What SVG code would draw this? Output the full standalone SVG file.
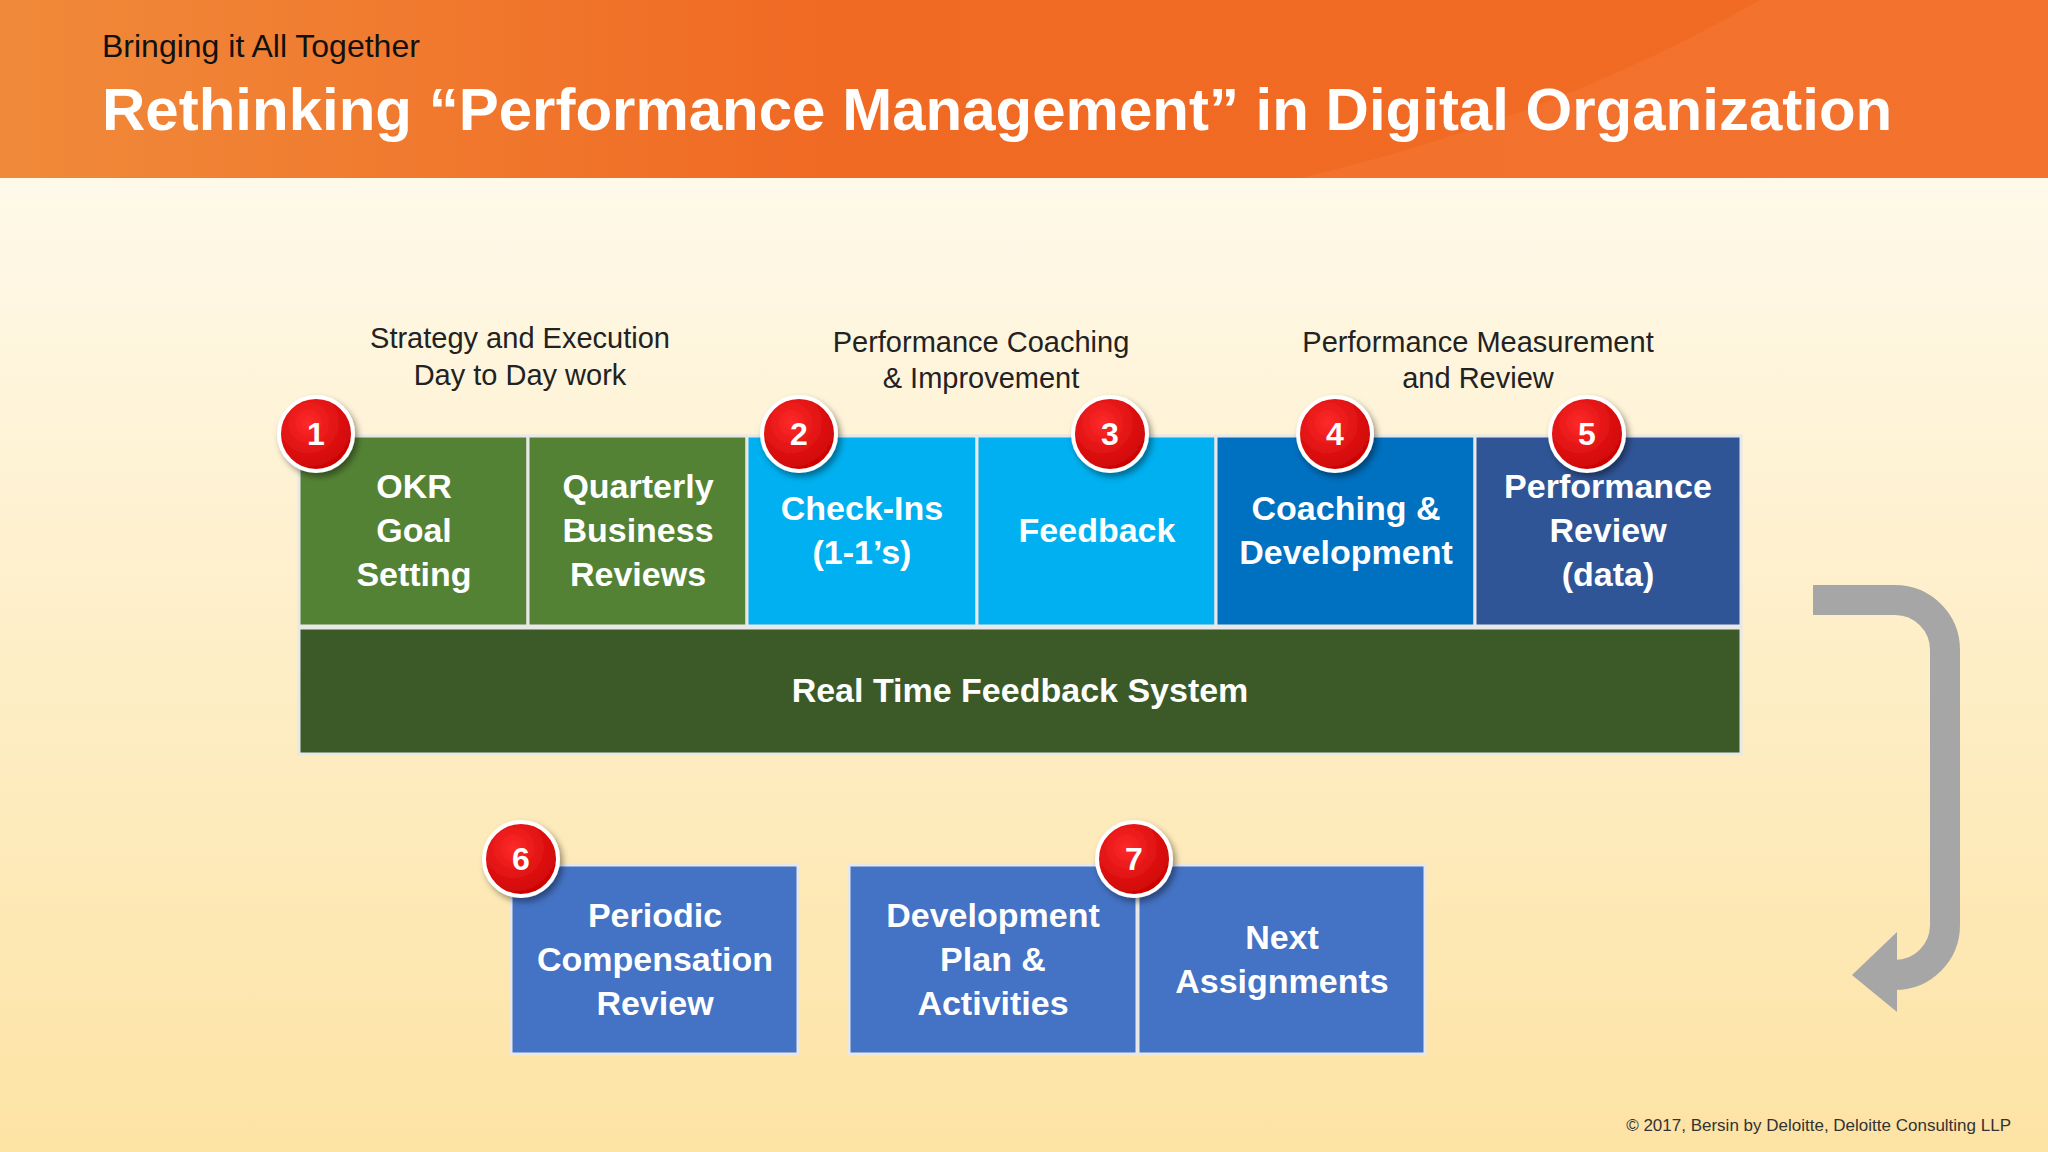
<svg xmlns="http://www.w3.org/2000/svg" width="2048" height="1152" viewBox="0 0 2048 1152">
<defs>
<linearGradient id="bg" x1="0" y1="0" x2="0" y2="1"><stop offset="0" stop-color="#fffdf6"/><stop offset="1" stop-color="#fde3a4"/></linearGradient>
<linearGradient id="hd" x1="0" y1="0" x2="1" y2="0"><stop offset="0" stop-color="#f08a3a"/><stop offset="0.4" stop-color="#f06a24"/><stop offset="1" stop-color="#f26b25"/></linearGradient>
<radialGradient id="bd" cx="0.4" cy="0.35" r="0.7"><stop offset="0" stop-color="#ff2a2a"/><stop offset="1" stop-color="#c80000"/></radialGradient>
<filter id="sh" x="-30%" y="-30%" width="160%" height="160%"><feDropShadow dx="3" dy="4" stdDeviation="3" flood-opacity="0.4"/></filter>
</defs>
<style>
.bx{stroke:#e8e8e8;stroke-width:3}
.bt{font-family:"Liberation Sans",Arial,sans-serif;font-weight:bold;font-size:34px;fill:#fff;text-anchor:middle}
.lb{font-family:"Liberation Sans",Arial,sans-serif;font-size:29px;fill:#222;text-anchor:middle}
.bc{fill:url(#bd);stroke:#fff;stroke-width:4;filter:url(#sh)}
.bn{font-family:"Liberation Sans",Arial,sans-serif;font-weight:bold;font-size:32px;fill:#fff;text-anchor:middle}
</style>
<rect width="2048" height="1152" fill="url(#bg)"/>
<rect width="2048" height="178" fill="url(#hd)"/>
<path d="M1300 178 Q1550 120 1760 0 L2048 0 L2048 178 Z" fill="#f47a35" opacity="0.5"/>
<text x="102" y="57" font-family="Liberation Sans,Arial,sans-serif" font-size="32" fill="#111">Bringing it All Together</text>
<text x="102" y="130" font-family="Liberation Sans,Arial,sans-serif" font-size="60" font-weight="bold" fill="#fff">Rethinking “Performance Management” in Digital Organization</text>
<g id="labels">
<text class="lb" x="520" y="348">Strategy and Execution</text><text class="lb" x="520" y="385">Day to Day work</text>
<text class="lb" x="981" y="352">Performance Coaching</text><text class="lb" x="981" y="388">&amp; Improvement</text>
<text class="lb" x="1478" y="352">Performance Measurement</text><text class="lb" x="1478" y="388">and Review</text>
</g>
<g id="n-okr"><rect class="bx" x="299" y="436" width="229" height="190" fill="#548235"/><text class="bt" x="414" y="498">OKR</text><text class="bt" x="414" y="542">Goal</text><text class="bt" x="414" y="586">Setting</text></g>
<g id="n-qbr"><rect class="bx" x="528" y="436" width="219" height="190" fill="#548235"/><text class="bt" x="638" y="498">Quarterly</text><text class="bt" x="638" y="542">Business</text><text class="bt" x="638" y="586">Reviews</text></g>
<g id="n-check"><rect class="bx" x="747" y="436" width="230" height="190" fill="#00b0f0"/><text class="bt" x="862" y="520">Check-Ins</text><text class="bt" x="862" y="564">(1-1’s)</text></g>
<g id="n-fb"><rect class="bx" x="977" y="436" width="239" height="190" fill="#00b0f0"/><text class="bt" x="1097" y="542">Feedback</text></g>
<g id="n-coach"><rect class="bx" x="1216" y="436" width="259" height="190" fill="#0070c0"/><text class="bt" x="1346" y="520">Coaching &amp;</text><text class="bt" x="1346" y="564">Development</text></g>
<g id="n-pr"><rect class="bx" x="1475" y="436" width="266" height="190" fill="#2f5597"/><text class="bt" x="1608" y="498">Performance</text><text class="bt" x="1608" y="542">Review</text><text class="bt" x="1608" y="586">(data)</text></g>
<g id="n-rt"><rect class="bx" x="299" y="628" width="1442" height="126" fill="#3b5a28"/><text class="bt" x="1020" y="702" font-size="33">Real Time Feedback System</text></g>
<g id="n-comp"><rect class="bx" x="511" y="865" width="287" height="189" fill="#4472c4"/><text class="bt" x="655" y="927">Periodic</text><text class="bt" x="655" y="971">Compensation</text><text class="bt" x="655" y="1015">Review</text></g>
<g id="n-dev"><rect class="bx" x="849" y="865" width="288" height="189" fill="#4472c4"/><text class="bt" x="993" y="927">Development</text><text class="bt" x="993" y="971">Plan &amp;</text><text class="bt" x="993" y="1015">Activities</text></g>
<g id="n-next"><rect class="bx" x="1138" y="865" width="287" height="189" fill="#4472c4"/><text class="bt" x="1282" y="949">Next</text><text class="bt" x="1282" y="993">Assignments</text></g>
<g id="badges">
<circle class="bc" cx="316" cy="434" r="37"/><text class="bn" x="316" y="445">1</text>
<circle class="bc" cx="799" cy="434" r="37"/><text class="bn" x="799" y="445">2</text>
<circle class="bc" cx="1110" cy="434" r="37"/><text class="bn" x="1110" y="445">3</text>
<circle class="bc" cx="1335" cy="434" r="37"/><text class="bn" x="1335" y="445">4</text>
<circle class="bc" cx="1587" cy="434" r="37"/><text class="bn" x="1587" y="445">5</text>
<circle class="bc" cx="521" cy="859" r="37"/><text class="bn" x="521" y="870">6</text>
<circle class="bc" cx="1134" cy="859" r="37"/><text class="bn" x="1134" y="870">7</text>
</g>
<g id="connectors">
<path d="M1813 600 H1895 A50 50 0 0 1 1945 650 V925 A50 50 0 0 1 1895 975 H1885" fill="none" stroke="#a6a6a6" stroke-width="30"/>
<polygon points="1852,975 1897,932 1897,1012" fill="#a6a6a6"/>
</g>
<text x="2011" y="1131" text-anchor="end" font-family="Liberation Sans,Arial,sans-serif" font-size="17" fill="#333">© 2017, Bersin by Deloitte, Deloitte Consulting LLP</text>
</svg>
